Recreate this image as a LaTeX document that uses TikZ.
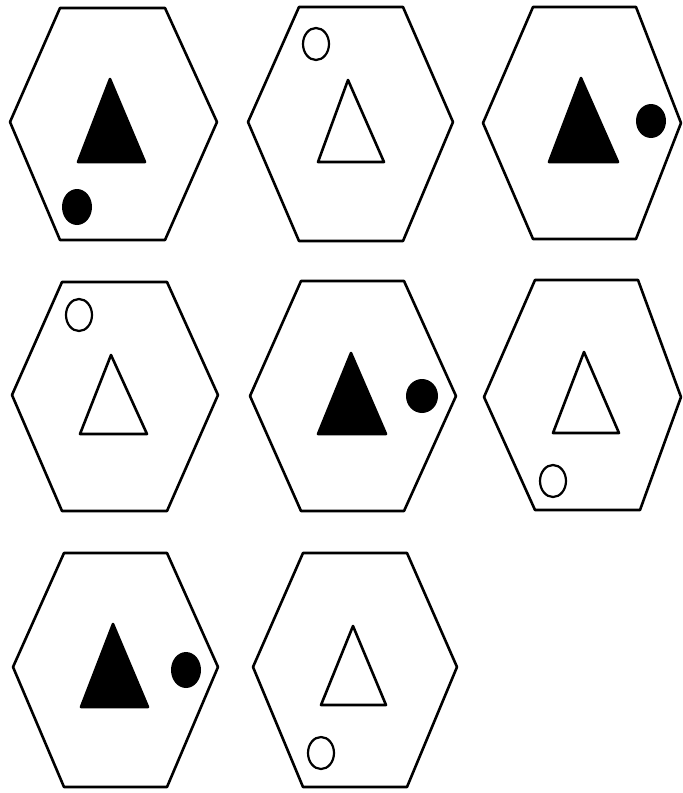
\documentclass[tikz,border=0pt]{standalone}
\begin{document}
\begin{tikzpicture}[x=1pt,y=-1pt,
  hexa/.style={draw=black,line width=2.6pt,line join=round},
  tri/.style={draw=black,line width=2.6pt,line join=round},
  trifull/.style={tri,fill=black},
  trihollow/.style={tri,fill=white},
  dotfull/.style={fill=black},
  dothollow/.style={draw=black,line width=2.2pt,fill=white}]
\useasboundingbox (0,0) rectangle (683,793);
\fill[white] (0,0) rectangle (683,793);
% Hexagon 1
\draw[hexa] (60,8) -- (165,8) -- (217,122) -- (165,240) -- (60,240) -- (10,122) -- cycle;
\draw[trifull] (110,79) -- (145,162) -- (78,162) -- cycle;
\fill[dotfull] (77,207) ellipse [x radius=15, y radius=18];
% Hexagon 2
\draw[hexa] (299,7) -- (403,7) -- (453,122) -- (403,241) -- (299,241) -- (248,122) -- cycle;
\draw[trihollow] (348,80) -- (384,162) -- (318,162) -- cycle;
\draw[dothollow] (316,44) ellipse [x radius=13, y radius=16];
% Hexagon 3
\draw[hexa] (533,7) -- (636,7) -- (681,123) -- (636,239) -- (533,239) -- (483,123) -- cycle;
\draw[trifull] (581,78) -- (618,162) -- (549,162) -- cycle;
\fill[dotfull] (651,121) ellipse [x radius=15, y radius=17];
% Hexagon 4
\draw[hexa] (62,282) -- (167,282) -- (218,395) -- (167,511) -- (62,511) -- (12,395) -- cycle;
\draw[trihollow] (111,355) -- (147,434) -- (80,434) -- cycle;
\draw[dothollow] (79,315) ellipse [x radius=13, y radius=16];
% Hexagon 5
\draw[hexa] (301,281) -- (404,281) -- (456,396) -- (404,511) -- (301,511) -- (250,396) -- cycle;
\draw[trifull] (351,353) -- (386,434) -- (318,434) -- cycle;
\fill[dotfull] (422,396) ellipse [x radius=16, y radius=17];
% Hexagon 6
\draw[hexa] (535,280) -- (638,280) -- (681,397) -- (640,510) -- (535,510) -- (484,397) -- cycle;
\draw[trihollow] (584,352) -- (619,433) -- (553,433) -- cycle;
\draw[dothollow] (553,481) ellipse [x radius=13, y radius=16];
% Hexagon 7
\draw[hexa] (64,553) -- (167,553) -- (218,667) -- (167,787) -- (64,787) -- (13,667) -- cycle;
\draw[trifull] (113,624) -- (148,707) -- (81,707) -- cycle;
\fill[dotfull] (186,670) ellipse [x radius=15, y radius=18];
% Hexagon 8
\draw[hexa] (303,553) -- (407,553) -- (457,667) -- (407,787) -- (303,787) -- (253,667) -- cycle;
\draw[trihollow] (353,626) -- (386,705) -- (321,705) -- cycle;
\draw[dothollow] (321,753) ellipse [x radius=13, y radius=16];
\end{tikzpicture}
\end{document}
